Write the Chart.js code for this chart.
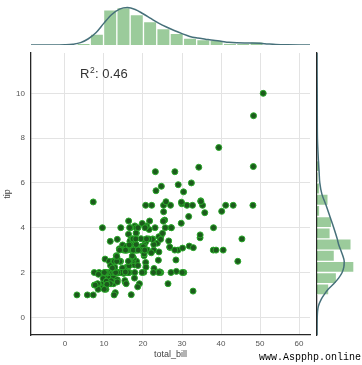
<!DOCTYPE html>
<html>
<head>
<meta charset="utf-8">
<script src="https://cdn.jsdelivr.net/npm/chart.js"></script>
<style>
  body { margin: 0; background: #fff; }
  .box { position: absolute; }
  #wm { position: absolute; left: 259px; top: 352px; font: 10px 'Liberation Mono', monospace; color: #000; line-height: 11px; white-space: nowrap; }
</style>
</head>
<body>
<div class="box" style="left:0;top:0;width:362px;height:365px"><canvas id="jointChart"></canvas></div>
<div class="box" style="left:0;top:0;width:362px;height:50px"><canvas id="billChart"></canvas></div>
<div class="box" style="left:300px;top:0;width:62px;height:365px"><canvas id="tipChart"></canvas></div>
<div id="wm">www.Aspphp.online</div>

<script>
    // scatter points (total_bill, tip)
    const totalBill = [
        16.99, 10.34, 21.01, 23.68, 24.59, 25.29, 8.77, 26.88, 15.04, 14.78,
        10.27, 35.26, 15.42, 18.43, 14.83, 21.58, 10.33, 16.29, 16.97, 20.65,
        17.92, 20.29, 15.77, 39.42, 19.82, 17.81, 13.37, 12.69, 21.70, 19.65,
        9.55, 18.35, 15.06, 20.69, 17.78, 24.06, 16.31, 16.93, 18.69, 31.27,
        16.04, 17.46, 13.94, 9.68, 30.40, 18.29, 22.23, 32.40, 28.55, 18.04,
        12.54, 10.29, 34.81, 9.94, 25.56, 19.49, 38.01, 26.41, 11.24, 48.27,
        20.29, 13.81, 11.02, 18.29, 17.59, 20.08, 16.45, 3.07, 20.23, 15.01,
        12.02, 17.07, 26.86, 25.28, 14.73, 10.51, 17.92, 27.20, 22.76, 17.29,
        19.44, 16.66, 10.07, 32.68, 15.98, 34.83, 13.03, 18.28, 24.71, 21.16,
        28.97, 22.49, 5.75, 16.32, 22.75, 40.17, 27.28, 12.03, 21.01, 12.46,
        11.35, 15.38, 44.30, 22.42, 20.92, 15.36, 20.49, 25.21, 18.24, 14.31,
        14.00, 7.25, 38.07, 23.95, 25.71, 17.31, 29.93, 10.65, 12.43, 24.08,
        11.69, 13.42, 14.26, 15.95, 12.48, 29.80, 8.52, 14.52, 11.38, 22.82,
        19.08, 20.27, 11.17, 12.26, 18.26, 8.51, 10.33, 14.15, 16.00, 13.16,
        17.47, 34.30, 41.19, 27.05, 16.43, 8.35, 18.64, 11.87, 9.78, 7.51,
        14.07, 13.13, 17.26, 24.55, 19.77, 29.85, 48.17, 25.00, 13.39, 16.49,
        21.50, 12.66, 16.21, 13.81, 17.51, 24.52, 20.76, 31.71, 10.59, 10.63,
        50.81, 15.81, 7.25, 31.85, 16.82, 32.90, 17.89, 14.48, 9.60, 34.63,
        34.65, 23.33, 45.35, 23.17, 40.55, 20.69, 20.90, 30.46, 18.15, 23.10,
        15.69, 19.81, 28.44, 15.48, 16.58, 7.56, 10.34, 43.11, 13.00, 13.51,
        18.71, 12.74, 13.00, 16.40, 20.53, 16.47, 26.59, 38.73, 24.27, 12.76,
        30.06, 25.89, 48.33, 13.27, 28.17, 12.90, 28.15, 11.59, 7.74, 30.14,
        12.16, 13.42, 8.58, 15.98, 13.42, 16.27, 10.09, 20.45, 13.28, 22.12,
        24.01, 15.69, 11.61, 10.77, 15.53, 10.07, 12.60, 32.83, 35.83, 29.03,
        27.18, 22.67, 17.82, 18.78
    ];
    const tip = [
        1.01, 1.66, 3.50, 3.31, 3.61, 4.71, 2.00, 3.12, 1.96, 3.23,
        1.71, 5.00, 1.57, 3.00, 3.02, 3.92, 1.67, 3.71, 3.50, 3.35,
        4.08, 2.75, 2.23, 7.58, 3.18, 2.34, 2.00, 2.00, 4.30, 3.00,
        1.45, 2.50, 3.00, 2.45, 3.27, 3.60, 2.00, 3.07, 2.31, 5.00,
        2.24, 2.54, 3.06, 1.32, 5.60, 3.00, 5.00, 6.00, 2.05, 3.00,
        2.50, 2.60, 5.20, 1.56, 4.34, 3.51, 3.00, 1.50, 1.76, 6.73,
        3.21, 2.00, 1.98, 3.76, 2.64, 3.15, 2.47, 1.00, 2.01, 2.09,
        1.97, 3.00, 3.14, 5.00, 2.20, 1.25, 3.08, 4.00, 3.00, 2.71,
        3.00, 3.40, 1.83, 5.00, 2.03, 5.17, 2.00, 4.00, 5.85, 3.00,
        3.00, 3.50, 1.00, 4.30, 3.25, 4.73, 4.00, 1.50, 3.00, 1.50,
        2.50, 3.00, 2.50, 3.48, 4.08, 1.64, 4.06, 4.29, 3.76, 4.00,
        3.00, 1.00, 4.00, 2.55, 4.00, 3.50, 5.07, 1.50, 1.80, 2.92,
        2.31, 1.68, 2.50, 2.00, 2.52, 4.20, 1.48, 2.00, 2.00, 2.18,
        1.50, 2.83, 1.50, 2.00, 3.25, 1.25, 2.00, 2.00, 2.00, 2.75,
        3.50, 6.70, 5.00, 5.00, 2.30, 1.50, 1.36, 1.63, 1.73, 2.00,
        2.50, 2.00, 2.74, 2.00, 2.00, 5.14, 5.00, 3.75, 2.61, 2.00,
        3.50, 2.50, 2.00, 2.00, 3.00, 3.48, 2.24, 4.50, 1.61, 2.00,
        10.00, 3.16, 5.15, 3.18, 4.00, 3.11, 2.00, 2.00, 4.00, 3.55,
        3.68, 5.65, 3.50, 6.50, 3.00, 5.00, 3.50, 2.00, 3.50, 4.00,
        1.50, 4.19, 2.56, 2.02, 4.00, 1.44, 2.00, 5.00, 2.00, 2.00,
        4.00, 2.01, 2.00, 2.50, 4.00, 3.23, 3.41, 3.00, 2.03, 2.23,
        2.00, 5.16, 9.00, 2.50, 6.50, 1.10, 3.00, 1.50, 1.44, 3.09,
        2.20, 3.48, 1.92, 3.00, 1.58, 2.50, 2.00, 3.00, 2.72, 2.88,
        2.00, 3.00, 3.39, 1.47, 3.00, 1.25, 1.00, 1.17, 4.67, 5.92,
        2.00, 2.00, 1.75, 3.00
    ];

    // marginal histograms (bin centres and counts)
    const billBinCenters = [4.775, 8.185, 11.595, 15.005, 18.415, 21.825, 25.235, 28.645, 32.055, 35.465, 38.875, 42.285, 45.695, 49.105];
    const billCounts = [2, 14, 45, 48, 39, 30, 21, 15, 9, 7, 6, 2, 2, 4];
    const tipBinCenters = [1.25, 1.75, 2.25, 2.75, 3.25, 3.75, 4.25, 4.75, 5.25, 5.75, 6.25, 6.75, 7.25, 7.75, 8.25, 8.75, 9.25, 9.75];
    const tipCounts = [17, 28, 53, 25, 49, 19, 21, 4, 16, 4, 1, 4, 0, 1, 0, 0, 1, 1];

    // marginal kde curves (same units as the counts)
    const kdeBillX = [-8.7, -3, 0, 2, 4, 6, 8, 10, 12, 14, 16, 18, 20, 22, 24, 26, 28, 30, 32, 34, 36, 38, 40, 42, 44, 46, 48, 50, 52, 54, 57, 60, 62.8];
    const kdeBillY = [0, 0, 0.3, 1, 3, 8, 16, 28, 39, 46, 48, 45.5, 40, 34, 28, 23, 18.5, 14.5, 11, 9, 7.5, 6, 4.8, 3.5, 2.8, 2.6, 2.6, 2.2, 1.4, 0.7, 0.2, 0, 0];
    const kdeTipX = [-0.79, 0, 0.5, 0.8, 1.0, 1.25, 1.5, 1.75, 2.0, 2.25, 2.5, 2.75, 3.0, 3.25, 3.5, 4.0, 4.5, 5.0, 5.5, 6.0, 6.5, 7.0, 7.5, 8.0, 9.0, 10.0, 11.0, 11.8];
    const kdeTipY = [0, 0.3, 2, 6, 10, 16, 24, 31, 36, 38.5, 39, 37, 34, 31, 29, 24, 18.5, 13, 7, 4, 3, 2, 1.2, 0.6, 0.4, 0.3, 0.05, 0];

    const billTicks = [0, 10, 20, 30, 40, 50, 60];
    const tipTicks = [0, 2, 4, 6, 8, 10];
    const r2Value = '0.46';

    const histFill = 'rgba(34, 139, 34, 0.45)';
    const histEdge = 'rgba(255, 255, 255, 0.45)';
    const kdeColor = '#46707a';

    Chart.defaults.font.family = "'Liberation Sans', Arial, sans-serif";

    const r2Label = {
        id: 'r2Label',
        afterDraw(chart) {
            const c = chart.ctx;
            c.save();
            c.fillStyle = '#333';
            c.textBaseline = 'alphabetic';
            let x = 80;
            const y = 78;
            c.font = "13px 'Liberation Sans'";
            c.fillText('R', x, y);
            x += c.measureText('R').width;
            c.font = "8.5px 'Liberation Sans'";
            c.fillText('2', x + 0.5, y - 5.5);
            x += c.measureText('2').width + 1;
            c.font = "13px 'Liberation Sans'";
            c.fillText(': ' + r2Value, x, y);
            c.restore();
        }
    };

    new Chart(document.getElementById('jointChart'), {
        type: 'scatter',
        data: {
            datasets: [{
                data: totalBill.map((x, i) => ({ x: x, y: tip[i] })),
                backgroundColor: '#1c5a1c',
                borderColor: '#2aa82a',
                borderWidth: 1,
                pointRadius: 3
            }]
        },
        options: {
            animation: false,
            responsive: true,
            maintainAspectRatio: false,
            layout: { padding: { left: 0, top: 53, right: 52, bottom: 0 } },
            plugins: { legend: { display: false }, tooltip: { enabled: false } },
            scales: {
                x: {
                    type: 'linear', min: -8.7, max: 62.8,
                    afterBuildTicks: ax => { ax.ticks = billTicks.map(v => ({ value: v })); },
                    afterFit: ax => { ax.height = 30; },
                    grid: { color: '#e3e3e3', drawTicks: false },
                    border: { color: '#262626', width: 1.3 },
                    ticks: { padding: 4, color: '#555', font: { size: 8 } },
                    title: { display: true, text: 'total_bill', color: '#444', font: { size: 9 }, padding: { top: 0, bottom: 4.6 } }
                },
                y: {
                    type: 'linear', min: -0.79, max: 11.8,
                    afterBuildTicks: ax => { ax.ticks = tipTicks.map(v => ({ value: v })); },
                    afterFit: ax => { ax.width = 31; },
                    grid: { color: '#e3e3e3', drawTicks: false },
                    border: { color: '#262626', width: 1.3 },
                    ticks: { padding: 6, color: '#555', font: { size: 8 } },
                    title: { display: true, text: 'tip', color: '#444', font: { size: 9 }, padding: { top: 2.6, bottom: 0 } }
                }
            }
        },
        plugins: [r2Label]
    });

    // top marginal: total_bill
    new Chart(document.getElementById('billChart'), {
        type: 'bar',
        data: {
            datasets: [{
                type: 'line',
                data: kdeBillX.map((x, i) => ({ x: x, y: kdeBillY[i] })),
                borderColor: kdeColor,
                borderWidth: 1.5,
                pointRadius: 0,
                cubicInterpolationMode: 'monotone',
                order: 0
            }, {
                type: 'bar',
                data: billBinCenters.map((x, i) => ({ x: x, y: billCounts[i] })),
                backgroundColor: histFill,
                borderColor: histEdge,
                borderWidth: 1,
                barPercentage: 1,
                categoryPercentage: 1,
                order: 1
            }]
        },
        options: {
            animation: false,
            responsive: true,
            maintainAspectRatio: false,
            layout: { padding: { left: 31, right: 52, top: 0, bottom: 5 } },
            plugins: { legend: { display: false }, tooltip: { enabled: false } },
            scales: {
                x: { type: 'linear', min: -8.7, max: 62.8, offset: false, display: false },
                y: { type: 'linear', min: 0, max: 57.6, display: false }
            }
        }
    });

    // right marginal: tip
    new Chart(document.getElementById('tipChart'), {
        type: 'bar',
        data: {
            datasets: [{
                type: 'line',
                data: kdeTipX.map((y, i) => ({ x: kdeTipY[i], y: y })),
                borderColor: kdeColor,
                borderWidth: 1.5,
                pointRadius: 0,
                cubicInterpolationMode: 'monotone',
                order: 0
            }, {
                type: 'bar',
                data: tipBinCenters.map((y, i) => ({ x: tipCounts[i], y: y })),
                backgroundColor: histFill,
                borderColor: histEdge,
                borderWidth: 1,
                barPercentage: 1,
                categoryPercentage: 1,
                order: 1
            }]
        },
        options: {
            indexAxis: 'y',
            animation: false,
            responsive: true,
            maintainAspectRatio: false,
            layout: { padding: { left: 17, right: 0, top: 53, bottom: 30 } },
            plugins: { legend: { display: false }, tooltip: { enabled: false } },
            scales: {
                x: { type: 'linear', min: 0, max: 64.5, display: false },
                y: {
                    type: 'linear', min: -0.79, max: 11.8, offset: false,
                    afterFit: ax => { ax.width = 0; },
                    ticks: { display: false },
                    grid: { display: false, drawTicks: false },
                    border: { display: true, color: '#262626', width: 1.3 }
                }
            }
        }
    });
</script>
</body>
</html>
